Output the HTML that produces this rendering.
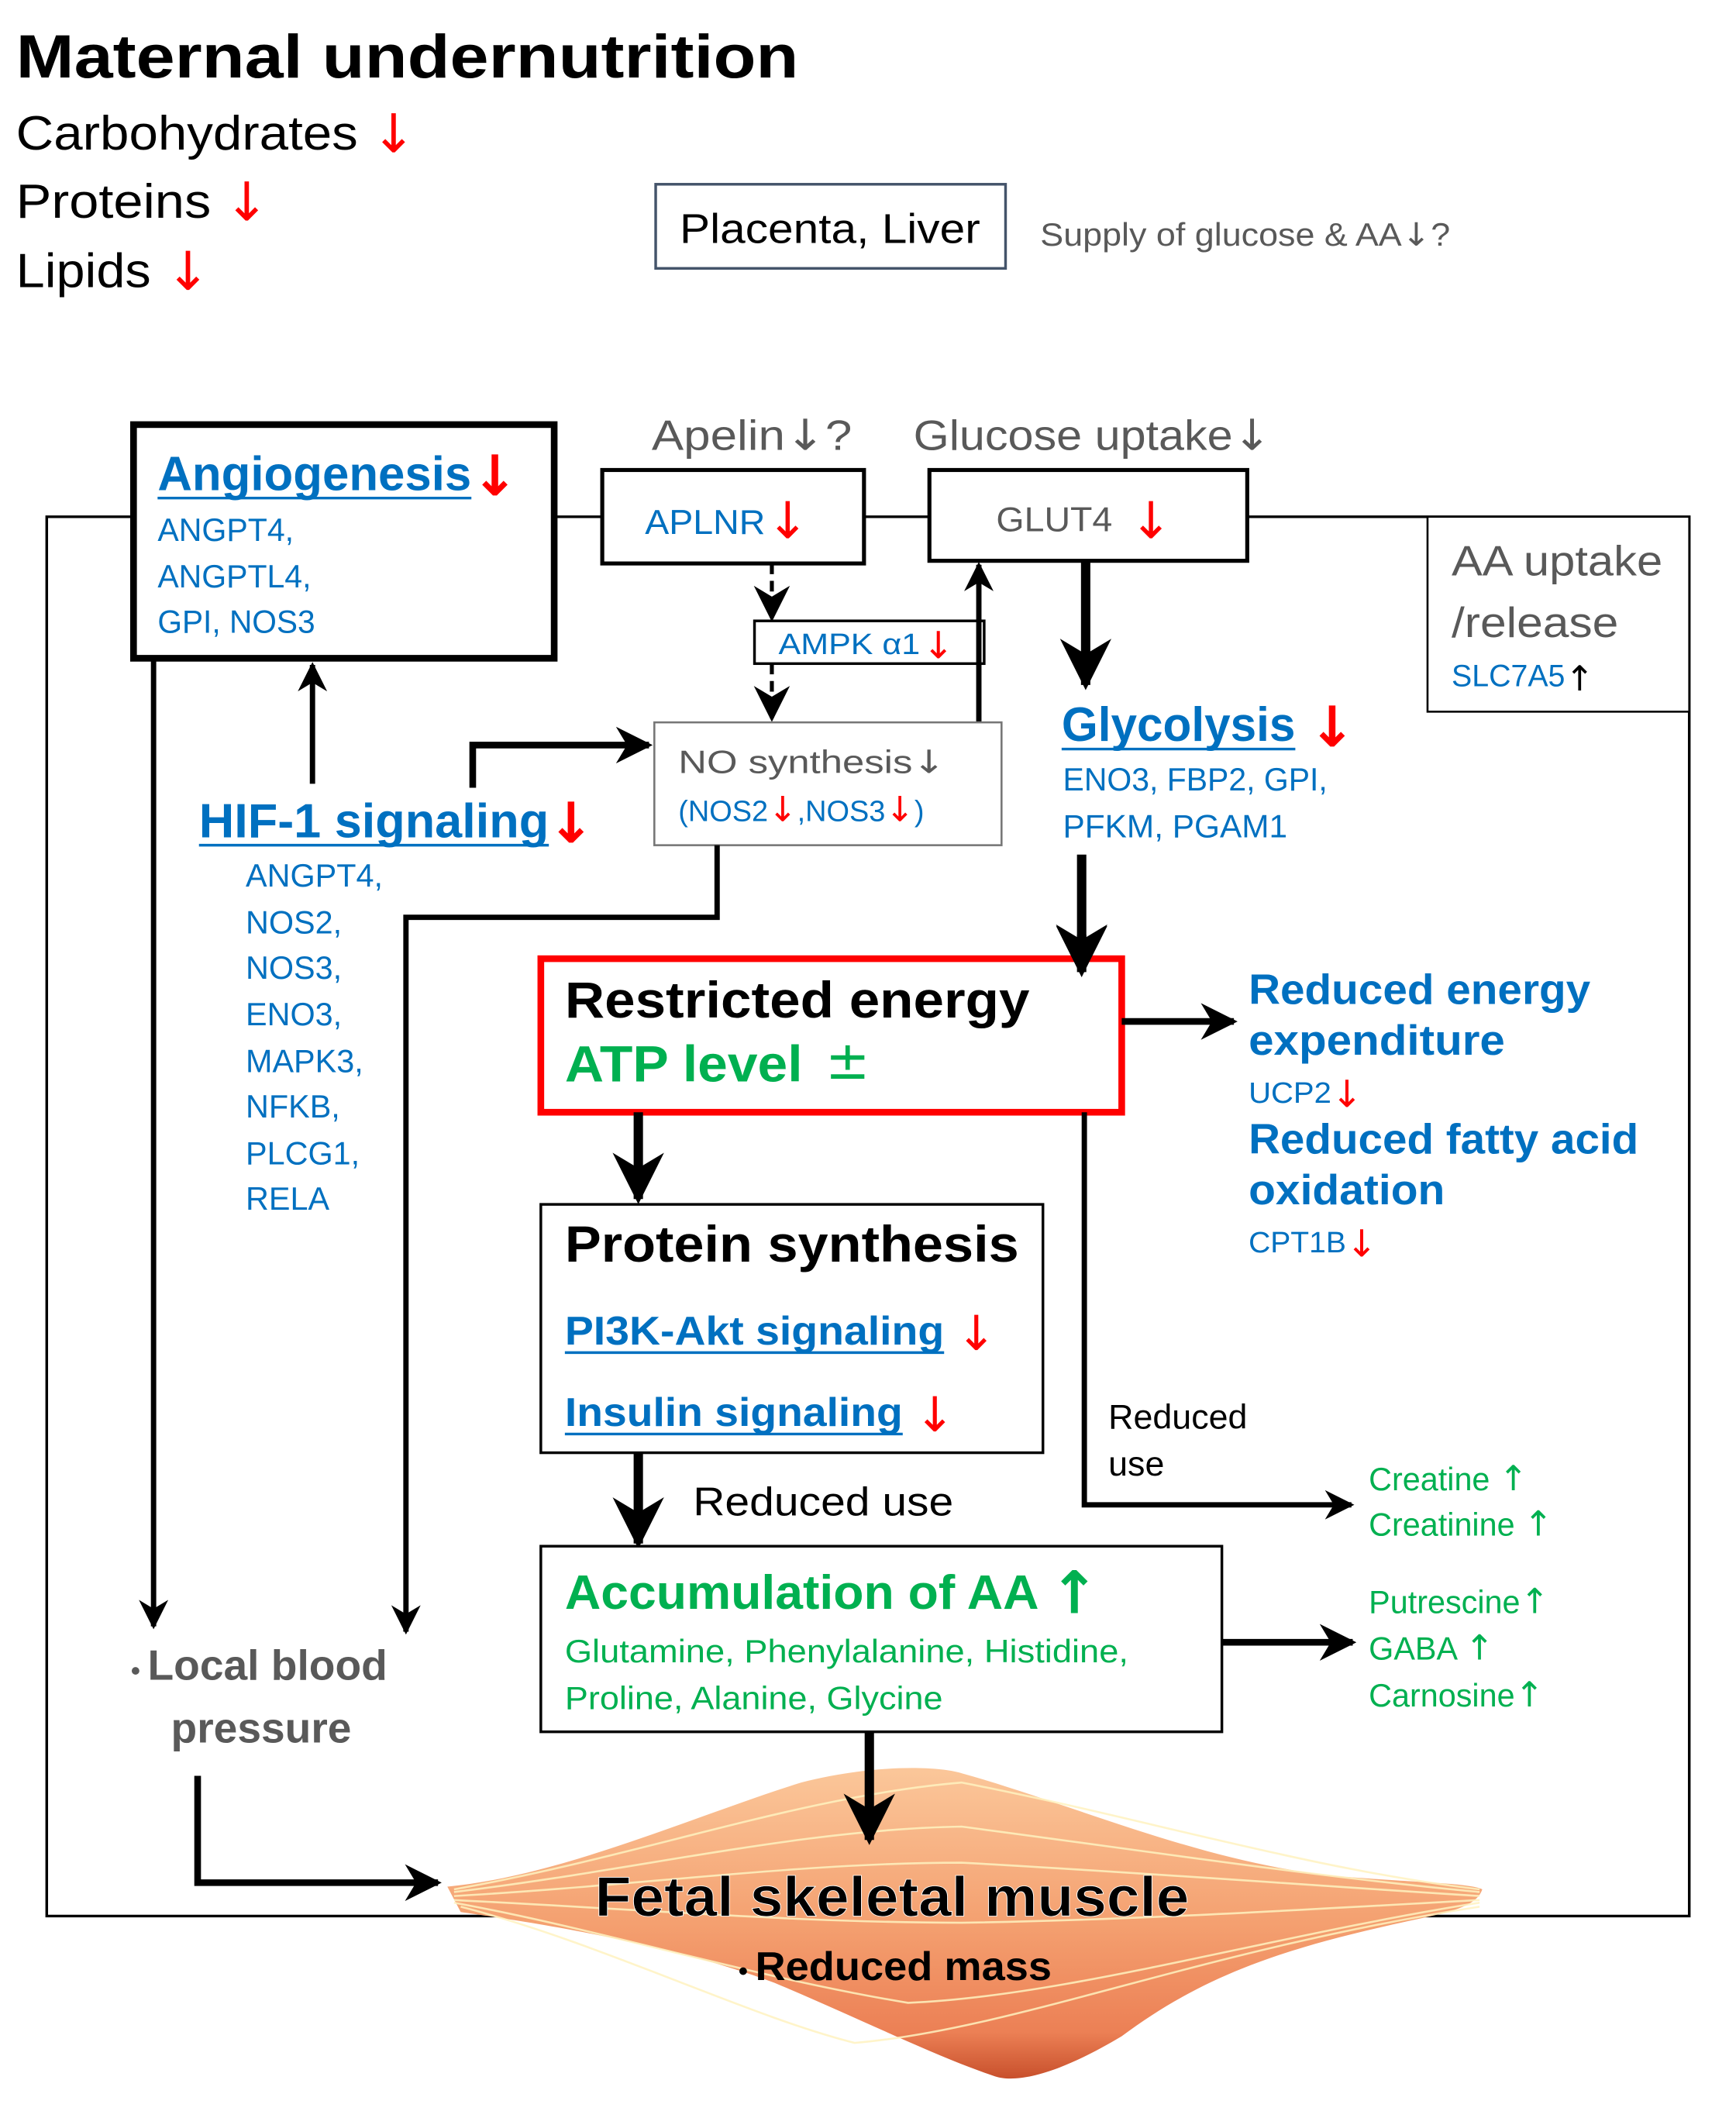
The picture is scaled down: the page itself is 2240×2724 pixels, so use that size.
<!DOCTYPE html>
<html><head><meta charset="utf-8"><style>
html,body{margin:0;padding:0;background:#fff;}
svg{display:block;}
text{font-family:"Liberation Sans","DejaVu Sans",sans-serif;}
.ar{font-family:"DejaVu Sans",sans-serif;font-weight:normal;}
.b{font-weight:bold;}
.blue{fill:#0070c0;}
.red{fill:#ff0000;}
.green{fill:#00b050;}
.gray{fill:#595959;}
</style></head><body>
<svg width="2240" height="2724" viewBox="0 0 1300 1581" preserveAspectRatio="none" xmlns="http://www.w3.org/2000/svg">
<defs>
<marker id="ah" viewBox="0 0 10 10" refX="9" refY="5" markerWidth="5.5" markerHeight="5.5" orient="auto" markerUnits="strokeWidth">
<path d="M0,0 L10,5 L0,10 L3,5 z" fill="#000"/></marker>
<marker id="ahs" viewBox="0 0 10 10" refX="9" refY="5" markerWidth="9" markerHeight="9" orient="auto" markerUnits="strokeWidth">
<path d="M0,0 L10,5 L0,10 L3,5 z" fill="#000"/></marker>
<linearGradient id="mg" x1="0" y1="0" x2="0" y2="1">
<stop offset="0" stop-color="#fbc79a"/><stop offset="0.5" stop-color="#f4a070"/><stop offset="0.85" stop-color="#ec8055"/><stop offset="1" stop-color="#c8502c"/></linearGradient>
</defs>

<!-- header -->
<text x="12" y="58" class="b" font-size="46" textLength="586" lengthAdjust="spacingAndGlyphs">Maternal undernutrition</text>
<text x="12" y="112" font-size="36" textLength="256" lengthAdjust="spacingAndGlyphs">Carbohydrates</text>
<text x="278" y="114" font-size="40" class="red ar">↓</text>
<text x="12" y="163" font-size="36" textLength="146" lengthAdjust="spacingAndGlyphs">Proteins</text>
<text x="168" y="165" font-size="40" class="red ar">↓</text>
<text x="12" y="215" font-size="36" textLength="101" lengthAdjust="spacingAndGlyphs">Lipids</text>
<text x="124" y="217" font-size="40" class="red ar">↓</text>

<rect x="491" y="138" width="262" height="63" fill="none" stroke="#44546a" stroke-width="2"/>
<text x="509" y="182" font-size="31" textLength="225" lengthAdjust="spacingAndGlyphs">Placenta, Liver</text>
<text x="779" y="184" font-size="24" class="gray" textLength="307" lengthAdjust="spacingAndGlyphs">Supply of glucose &amp; AA<tspan class="ar">↓</tspan>?</text>

<!-- outer frame -->
<polyline points="100,387 35,387 35,1435 1265,1435 1265,387 935,387" fill="none" stroke="#000" stroke-width="2"/>
<line x1="415" y1="387" x2="451" y2="387" stroke="#000" stroke-width="2"/>
<line x1="647" y1="387" x2="696" y2="387" stroke="#000" stroke-width="2"/>
<rect x="1069" y="387" width="196" height="146" fill="#fff" stroke="#000" stroke-width="1.5"/>
<text x="1087" y="431" font-size="32" class="gray" textLength="158" lengthAdjust="spacingAndGlyphs">AA uptake</text>
<text x="1087" y="477" font-size="32" class="gray" textLength="125" lengthAdjust="spacingAndGlyphs">/release</text>
<text x="1087" y="514" font-size="23" class="blue" textLength="85" lengthAdjust="spacingAndGlyphs">SLC7A5</text>
<text x="1172" y="517" font-size="26" class="ar">↑</text>

<!-- Angiogenesis -->
<rect x="100" y="318" width="315" height="175" fill="#fff" stroke="#000" stroke-width="5"/>
<text x="118" y="367" font-size="36" class="b blue" textLength="235" lengthAdjust="spacingAndGlyphs">Angiogenesis</text>
<line x1="118" y1="373" x2="353" y2="373" stroke="#0070c0" stroke-width="2"/>
<text x="353" y="371" font-size="42" class="b red ar">↓</text>
<text x="118" y="405" font-size="24" class="blue" textLength="102" lengthAdjust="spacingAndGlyphs">ANGPT4,</text>
<text x="118" y="440" font-size="24" class="blue" textLength="115" lengthAdjust="spacingAndGlyphs">ANGPTL4,</text>
<text x="118" y="474" font-size="24" class="blue" textLength="118" lengthAdjust="spacingAndGlyphs">GPI, NOS3</text>

<!-- Apelin / glucose -->
<text x="488" y="337" font-size="32" class="gray" textLength="150" lengthAdjust="spacingAndGlyphs">Apelin<tspan class="ar">↓</tspan>?</text>
<text x="684" y="337" font-size="32" class="gray" textLength="268" lengthAdjust="spacingAndGlyphs">Glucose uptake<tspan class="ar">↓</tspan></text>
<rect x="451" y="352" width="196" height="70" fill="#fff" stroke="#000" stroke-width="3"/>
<text x="483" y="400" font-size="26" class="blue" textLength="90" lengthAdjust="spacingAndGlyphs">APLNR</text>
<text x="574" y="403" font-size="38" class="red ar">↓</text>
<rect x="696" y="352" width="238" height="68" fill="#fff" stroke="#000" stroke-width="3"/>
<text x="746" y="398" font-size="26" class="gray" textLength="87" lengthAdjust="spacingAndGlyphs">GLUT4</text>
<text x="846" y="403" font-size="38" class="red ar">↓</text>

<!-- AMPK -->
<line x1="578" y1="422" x2="578" y2="463" stroke="#000" stroke-width="3" stroke-dasharray="8,5" marker-end="url(#ahs)"/>
<rect x="565" y="465" width="172" height="32" fill="#fff" stroke="#000" stroke-width="2"/>
<text x="583" y="490" font-size="22" class="blue" textLength="106" lengthAdjust="spacingAndGlyphs">AMPK α1</text>
<text x="691" y="493" font-size="28" class="red ar">↓</text>
<line x1="578" y1="497" x2="578" y2="538" stroke="#000" stroke-width="3" stroke-dasharray="8,5" marker-end="url(#ahs)"/>
<line x1="733" y1="541" x2="733" y2="423" stroke="#000" stroke-width="4" marker-end="url(#ah)"/>

<!-- NO synthesis -->
<rect x="490" y="541" width="260" height="92" fill="#fff" stroke="#777" stroke-width="1.5"/>
<text x="508" y="579" font-size="24" class="gray" textLength="200" lengthAdjust="spacingAndGlyphs">NO synthesis<tspan class="ar">↓</tspan></text>
<text x="508" y="615" font-size="22" class="blue"><tspan>(NOS2</tspan><tspan class="red ar" font-size="26">↓</tspan><tspan>,NOS3</tspan><tspan class="red ar" font-size="26">↓</tspan><tspan>)</tspan></text>

<!-- HIF-1 -->
<text x="149" y="627" font-size="36" class="b blue" textLength="262" lengthAdjust="spacingAndGlyphs">HIF-1 signaling</text>
<line x1="149" y1="633" x2="411" y2="633" stroke="#0070c0" stroke-width="2"/>
<text x="410" y="631" font-size="42" class="b red ar">↓</text>
<g font-size="24" class="blue">
<text x="184" y="664">ANGPT4,</text>
<text x="184" y="699">NOS2,</text>
<text x="184" y="733">NOS3,</text>
<text x="184" y="768">ENO3,</text>
<text x="184" y="803">MAPK3,</text>
<text x="184" y="837">NFKB,</text>
<text x="184" y="872">PLCG1,</text>
<text x="184" y="906">RELA</text>
</g>
<line x1="234" y1="587" x2="234" y2="498" stroke="#000" stroke-width="4" marker-end="url(#ah)"/>
<polyline points="354,590 354,558 486,558" fill="none" stroke="#000" stroke-width="5" marker-end="url(#ah)"/>
<polyline points="537,633 537,687 304,687 304,1222" fill="none" stroke="#000" stroke-width="4" marker-end="url(#ah)"/>
<line x1="115" y1="493" x2="115" y2="1218" stroke="#000" stroke-width="4" marker-end="url(#ah)"/>

<text x="98" y="1258" font-size="32" class="b gray"><tspan font-size="20">• </tspan><tspan>Local blood</tspan></text>
<text x="128" y="1305" font-size="32" class="b gray">pressure</text>
<polyline points="148,1330 148,1410 328,1410" fill="none" stroke="#000" stroke-width="5" marker-end="url(#ah)"/>

<!-- Glycolysis -->
<line x1="813" y1="420" x2="813" y2="513" stroke="#000" stroke-width="7" marker-end="url(#ah)"/>
<text x="795" y="555" font-size="36" class="b blue" textLength="175" lengthAdjust="spacingAndGlyphs">Glycolysis</text>
<line x1="795" y1="561" x2="970" y2="561" stroke="#0070c0" stroke-width="2"/>
<text x="980" y="559" font-size="42" class="b red ar">↓</text>
<text x="796" y="592" font-size="24" class="blue" textLength="198" lengthAdjust="spacingAndGlyphs">ENO3, FBP2, GPI,</text>
<text x="796" y="627" font-size="24" class="blue" textLength="168" lengthAdjust="spacingAndGlyphs">PFKM, PGAM1</text>
<line x1="810" y1="640" x2="810" y2="727" stroke="#000" stroke-width="7" marker-end="url(#ah)"/>

<!-- Restricted energy -->
<rect x="405" y="718" width="435" height="115" fill="#fff" stroke="#ff0000" stroke-width="5"/>
<line x1="810" y1="700" x2="810" y2="728" stroke="#000" stroke-width="7" marker-end="url(#ah)"/>
<text x="423" y="762" font-size="38" class="b" textLength="348" lengthAdjust="spacingAndGlyphs">Restricted energy</text>
<text x="423" y="810" font-size="38" class="b green" textLength="178" lengthAdjust="spacingAndGlyphs">ATP level</text>
<text x="618" y="808" font-size="40" class="green ar">±</text>

<line x1="840" y1="765" x2="924" y2="765" stroke="#000" stroke-width="5" marker-end="url(#ah)"/>
<text x="935" y="752" font-size="32" class="b blue" textLength="256" lengthAdjust="spacingAndGlyphs">Reduced energy</text>
<text x="935" y="790" font-size="32" class="b blue" textLength="192" lengthAdjust="spacingAndGlyphs">expenditure</text>
<text x="935" y="826" font-size="22" class="blue" textLength="62" lengthAdjust="spacingAndGlyphs">UCP2</text>
<text x="997" y="829" font-size="28" class="red ar">↓</text>
<text x="935" y="864" font-size="32" class="b blue" textLength="292" lengthAdjust="spacingAndGlyphs">Reduced fatty acid</text>
<text x="935" y="902" font-size="32" class="b blue" textLength="147" lengthAdjust="spacingAndGlyphs">oxidation</text>
<text x="935" y="938" font-size="22" class="blue" textLength="73" lengthAdjust="spacingAndGlyphs">CPT1B</text>
<text x="1008" y="941" font-size="28" class="red ar">↓</text>

<polyline points="812,833 812,1127 1012,1127" fill="none" stroke="#000" stroke-width="4" marker-end="url(#ah)"/>
<text x="830" y="1070" font-size="26">Reduced</text>
<text x="830" y="1105" font-size="26">use</text>
<text x="1025" y="1116" font-size="24" class="green">Creatine <tspan class="ar" font-size="26">↑</tspan></text>
<text x="1025" y="1150" font-size="24" class="green">Creatinine <tspan class="ar" font-size="26">↑</tspan></text>

<!-- Protein synthesis -->
<line x1="478" y1="833" x2="478" y2="898" stroke="#000" stroke-width="7" marker-end="url(#ah)"/>
<rect x="405" y="902" width="376" height="186" fill="#fff" stroke="#000" stroke-width="2"/>
<text x="423" y="945" font-size="38" class="b" textLength="340" lengthAdjust="spacingAndGlyphs">Protein synthesis</text>
<text x="423" y="1007" font-size="30" class="b blue" textLength="284" lengthAdjust="spacingAndGlyphs">PI3K-Akt signaling</text>
<line x1="423" y1="1013" x2="707" y2="1013" stroke="#0070c0" stroke-width="2"/>
<text x="716" y="1011" font-size="36" class="red ar">↓</text>
<text x="423" y="1068" font-size="30" class="b blue" textLength="253" lengthAdjust="spacingAndGlyphs">Insulin signaling</text>
<line x1="423" y1="1074" x2="676" y2="1074" stroke="#0070c0" stroke-width="2"/>
<text x="685" y="1072" font-size="36" class="red ar">↓</text>

<line x1="478" y1="1088" x2="478" y2="1156" stroke="#000" stroke-width="7" marker-end="url(#ah)"/>
<text x="519" y="1135" font-size="30" textLength="195" lengthAdjust="spacingAndGlyphs">Reduced  use</text>

<!-- Accumulation -->
<rect x="405" y="1158" width="510" height="139" fill="#fff" stroke="#000" stroke-width="2"/>
<text x="423" y="1205" font-size="36" class="b green" textLength="355" lengthAdjust="spacingAndGlyphs">Accumulation of AA</text>
<text x="786" y="1208" font-size="44" class="b green ar">↑</text>
<text x="423" y="1245" font-size="24" class="green" textLength="422" lengthAdjust="spacingAndGlyphs">Glutamine, Phenylalanine, Histidine,</text>
<text x="423" y="1280" font-size="24" class="green" textLength="283" lengthAdjust="spacingAndGlyphs">Proline, Alanine, Glycine</text>
<line x1="915" y1="1230" x2="1013" y2="1230" stroke="#000" stroke-width="5" marker-end="url(#ah)"/>
<text x="1025" y="1208" font-size="24" class="green">Putrescine<tspan class="ar" font-size="26">↑</tspan></text>
<text x="1025" y="1243" font-size="24" class="green">GABA <tspan class="ar" font-size="26">↑</tspan></text>
<text x="1025" y="1278" font-size="24" class="green">Carnosine<tspan class="ar" font-size="26">↑</tspan></text>

<!-- muscle -->
<path d="M335,1413 C420,1405 520,1360 600,1335 C650,1322 700,1322 720,1328 C800,1350 900,1395 1000,1405 C1060,1410 1100,1410 1110,1415 C1105,1430 1080,1433 1040,1442 C960,1460 900,1480 840,1525 C790,1555 760,1560 745,1555 C700,1540 640,1510 580,1485 C500,1455 400,1440 345,1432 Z" fill="url(#mg)"/>
<g fill="none" stroke="#fff3c0" stroke-width="1.5" opacity="0.85">
<path d="M340,1415 C480,1390 600,1345 720,1335 C850,1360 980,1400 1108,1415"/>
<path d="M340,1417 C480,1400 600,1370 720,1368 C850,1385 980,1405 1108,1417"/>
<path d="M340,1420 C480,1412 600,1395 720,1395 C850,1402 980,1412 1108,1420"/>
<path d="M340,1423 C480,1430 600,1440 720,1440 C850,1438 980,1430 1108,1423"/>
<path d="M340,1425 C450,1445 560,1480 680,1500 C800,1495 950,1450 1108,1425"/>
<path d="M345,1428 C450,1455 560,1510 640,1530 C760,1520 900,1460 1108,1428"/>
</g>
<line x1="651" y1="1297" x2="651" y2="1378" stroke="#000" stroke-width="7" marker-end="url(#ah)"/>
<text x="668" y="1435" font-size="42" class="b" text-anchor="middle" textLength="445" lengthAdjust="spacingAndGlyphs" stroke="#fff" stroke-width="0.5">Fetal skeletal muscle</text>
<text x="553" y="1483" font-size="30" class="b"><tspan font-size="20">• </tspan><tspan textLength="222" lengthAdjust="spacingAndGlyphs">Reduced mass</tspan></text>
</svg>
</body></html>
